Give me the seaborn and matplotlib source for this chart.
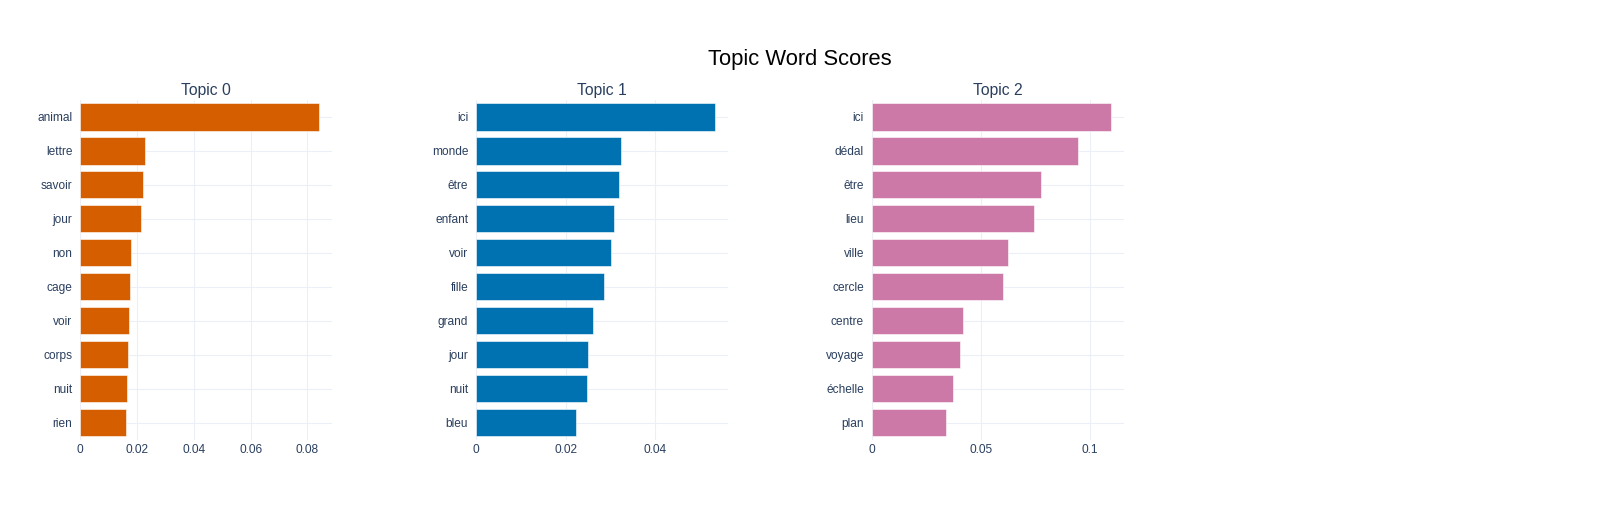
import pandas as pd
import matplotlib
matplotlib.use("Agg")
import matplotlib.pyplot as plt
import seaborn as sns

topic_titles = ["Topic 0", "Topic 1", "Topic 2"]

topic0_words = ["animal", "lettre", "savoir", "jour", "non", "cage", "voir", "corps", "nuit", "rien"]
topic0_scores = [0.0842, 0.0230, 0.0223, 0.0216, 0.0180, 0.0177, 0.0174, 0.0169, 0.0165, 0.0162]

topic1_words = ["ici", "monde", "être", "enfant", "voir", "fille", "grand", "jour", "nuit", "bleu"]
topic1_scores = [0.0533, 0.0323, 0.0318, 0.0307, 0.0301, 0.0285, 0.0262, 0.0250, 0.0248, 0.0223]

topic2_words = ["ici", "dédal", "être", "lieu", "ville", "cercle", "centre", "voyage", "échelle", "plan"]
topic2_scores = [0.1096, 0.0943, 0.0775, 0.0745, 0.0626, 0.0603, 0.0419, 0.0403, 0.0372, 0.0339]

topic_colors = ["#D55E00", "#0072B2", "#CC79A7"]
x_ticks = [[0, 0.02, 0.04, 0.06, 0.08], [0, 0.02, 0.04], [0, 0.05, 0.1]]
x_ticklabels = [["0", "0.02", "0.04", "0.06", "0.08"], ["0", "0.02", "0.04"], ["0", "0.05", "0.1"]]


def main():
    sns.set_theme(style="whitegrid")
    plt.rcParams["font.family"] = ["Liberation Sans", "DejaVu Sans"]

    W, H = 1600, 520
    fig = plt.figure(figsize=(W / 100, H / 100), dpi=100)
    fig.patch.set_facecolor("white")

    text_color = "#2a3f5f"
    grid_color = "#EBF0F8"

    words = [topic0_words, topic1_words, topic2_words]
    scores = [topic0_scores, topic1_scores, topic2_scores]

    left0, col_step, ax_w = 80, 395.8, 252
    top, ax_h = 100, 339.5

    for i in range(3):
        df = pd.DataFrame({"word": words[i], "score": scores[i]})
        left = left0 + i * col_step
        ax = fig.add_axes([left / W, 1 - (top + ax_h) / H, ax_w / W, ax_h / H])
        ax.set_facecolor("white")
        ax.set_axisbelow(True)

        sns.barplot(data=df, x="score", y="word", orient="h", color=topic_colors[i],
                    saturation=1, width=0.8, edgecolor="white", linewidth=0.4, ax=ax)

        ax.set_xlim(0, max(scores[i]) / 0.95)
        ax.set_ylim(len(words[i]) - 0.5, -0.5)
        ax.set_xticks(x_ticks[i])
        ax.set_xticklabels(x_ticklabels[i])
        ax.grid(True, color=grid_color, linewidth=0.75)
        ax.axvline(0, color=grid_color, linewidth=1.5, zorder=0.5)
        for s in ax.spines.values():
            s.set_visible(False)
        ax.tick_params(axis="both", length=0, labelsize=8.6, labelcolor=text_color)
        ax.tick_params(axis="x", pad=3.3)
        ax.tick_params(axis="y", pad=5.5)
        ax.set_xlabel("")
        ax.set_ylabel("")

        fig.text((left + ax_w / 2) / W, 1 - 95.3 / H, topic_titles[i], ha="center",
                 va="baseline", fontsize=11.3, color=text_color)

    fig.text(0.5, 1 - 65 / H, "Topic Word Scores", ha="center", va="baseline",
             fontsize=15.8, color="black")

    fig.savefig("out.png", dpi=100, facecolor="white")
    plt.close(fig)


if __name__ == "__main__":
    main()
